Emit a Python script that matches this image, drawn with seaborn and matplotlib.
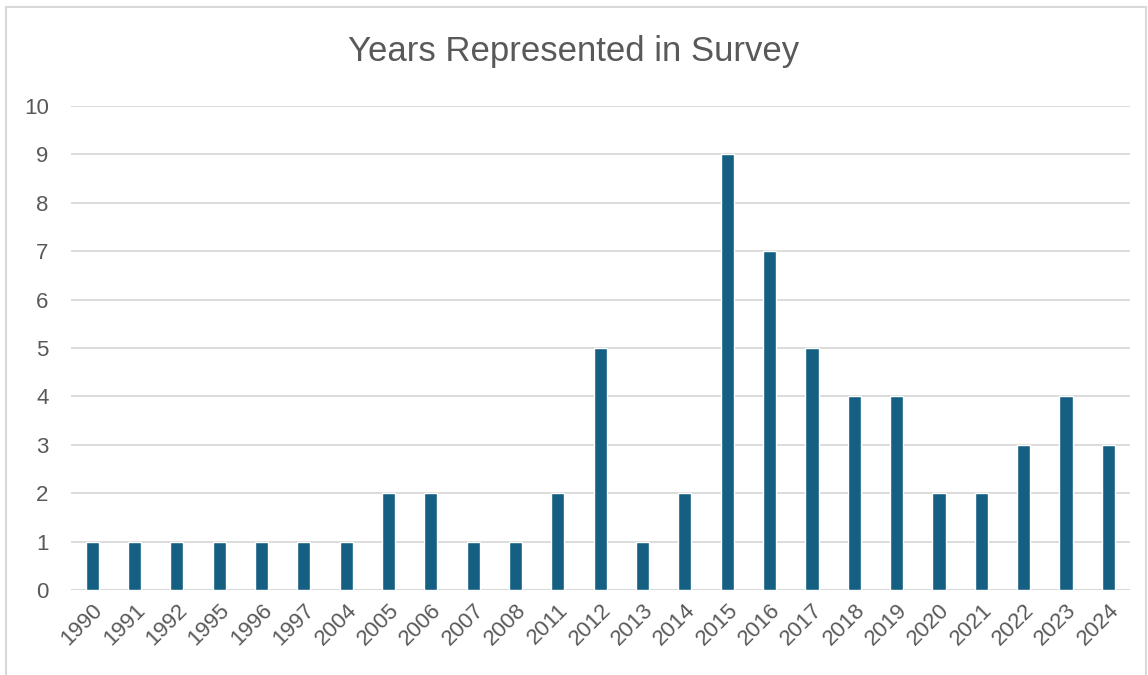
import pandas as pd
import matplotlib.pyplot as plt
import seaborn as sns
from matplotlib.patches import Rectangle

years = ["1990", "1991", "1992", "1995", "1996", "1997", "2004", "2005", "2006", "2007",
         "2008", "2011", "2012", "2013", "2014", "2015", "2016", "2017", "2018", "2019",
         "2020", "2021", "2022", "2023", "2024"]
counts = [1, 1, 1, 1, 1, 1, 1, 2, 2, 1,
          1, 2, 5, 1, 2, 9, 7, 5, 4, 4,
          2, 2, 3, 4, 3]

df = pd.DataFrame({"Year": years, "Count": counts})

sns.set_style("white")
plt.rcParams["font.family"] = ["Liberation Sans", "DejaVu Sans"]

fig = plt.figure(figsize=(11.48, 6.75), dpi=100)
ax = fig.add_axes([0.0618, 0.1259, 0.9221, 0.7171])

sns.barplot(data=df, x="Year", y="Count", color="#156082", saturation=1,
            width=0.31, ax=ax)

ax.set_ylim(0, 10)
ax.set_xlim(-0.5, len(years) - 0.5)
ax.set_yticks(range(0, 11))
ax.yaxis.grid(True, color="#d9d9d9", linewidth=1.3)
ax.set_axisbelow(True)
for s in ax.spines.values():
    s.set_visible(False)
ax.axhline(0, color="#d9d9d9", linewidth=1.5, zorder=0)

ax.set_xlabel("")
ax.set_ylabel("")
ax.tick_params(axis="both", length=0, labelsize=16, labelcolor="#595959")
ax.tick_params(axis="y", pad=16)
plt.setp(ax.get_xticklabels(), rotation=45, ha="right", rotation_mode="anchor")
ax.tick_params(axis="x", pad=7)

fig.text(0.5, 0.923, "Years Represented in Survey", ha="center", va="center",
         fontsize=25, color="#595959")

fig.patches.append(Rectangle((6 / 1148, -0.01), 1140 / 1148, 1 - 7 / 675 + 0.01,
                             transform=fig.transFigure, fill=False,
                             edgecolor="#d9d9d9", linewidth=1.5))

plt.savefig("out.png", dpi=100)
